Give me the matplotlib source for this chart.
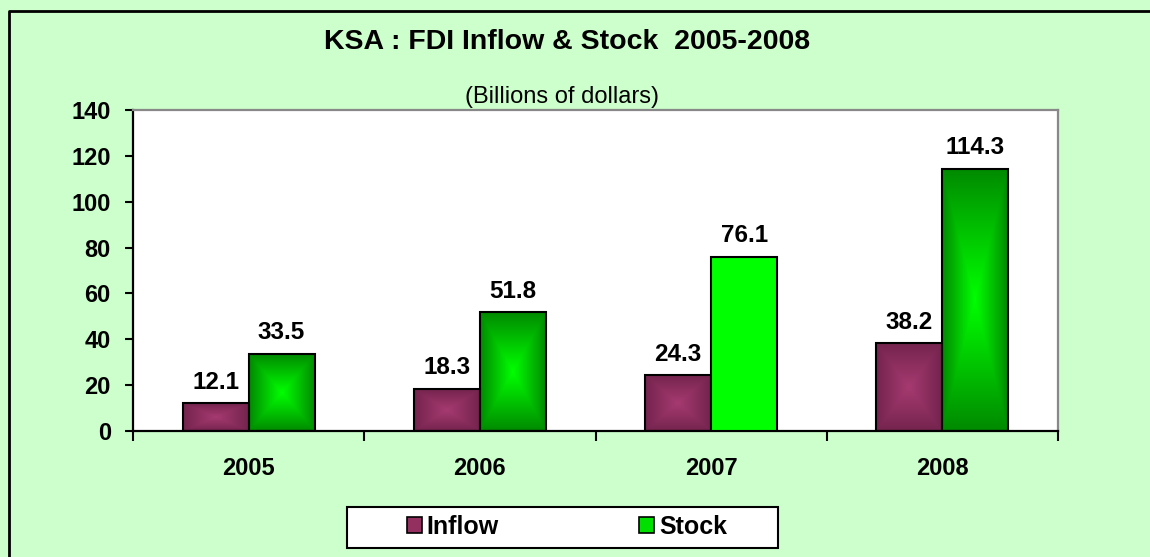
import numpy as np
import matplotlib.pyplot as plt
from matplotlib.patches import Rectangle, Patch
from matplotlib.lines import Line2D
from matplotlib.colors import LinearSegmentedColormap

plt.rcParams['font.family'] = ['Liberation Sans', 'DejaVu Sans']

years = ['2005', '2006', '2007', '2008']
inflow = [12.1, 18.3, 24.3, 38.2]
stock = [33.5, 51.8, 76.1, 114.3]

W, H = 1150, 557
fig = plt.figure(figsize=(W / 100, H / 100), dpi=100, facecolor='#CCFFCC')

# outer chart border: only the left and top edges show in the reference
fig.lines.append(Line2D([8.5 / W, 8.5 / W, 1.0], [0, 1 - 10.5 / H, 1 - 10.5 / H],
                        transform=fig.transFigure, color='black', lw=2))

ax = fig.add_axes([133 / W, 1 - 431 / H, 925 / W, 321 / H])
ax.set_facecolor('white')

x = np.arange(len(years))
w = 0.285


def shade(rect, c_mid, c_edge):
    # rectangular "from centre" gradient like Excel
    n = 200
    yy, xx = np.mgrid[-1:1:n * 1j, -1:1:n * 1j]
    t = np.maximum(np.abs(xx), np.abs(yy))
    cmap = LinearSegmentedColormap.from_list('g', [c_mid, c_edge])
    x0 = rect.get_x()
    ax.imshow(t, cmap=cmap, vmin=0, vmax=1, aspect='auto', interpolation='bilinear',
              extent=[x0, x0 + rect.get_width(), 0, rect.get_height()], zorder=2)


b1 = ax.bar(x - w / 2, inflow, w, facecolor='none', edgecolor='black', lw=1.5, zorder=3)
b2 = ax.bar(x + w / 2, stock, w, facecolor='none', edgecolor='black', lw=1.5, zorder=3)

for r in b1:
    shade(r, '#A63A70', '#74244E')
for yr, r in zip(years, b2):
    if yr == '2007':
        r.set_facecolor('#00FF00')
    else:
        shade(r, '#00FF00', '#008A00')

for bars, vals in ((b1, inflow), (b2, stock)):
    for r, v in zip(bars, vals):
        ax.annotate(f'{v:.1f}', (r.get_x() + r.get_width() / 2, v), xytext=(0, 7),
                    textcoords='offset points', ha='center', va='bottom',
                    fontsize=17.5, fontweight='bold')

ax.set_xlim(-0.5, 3.5)
ax.set_ylim(0, 140)
ax.set_yticks(range(0, 141, 20))
ax.set_xticks(x, years)
ax.set_xticks(np.arange(-0.5, 4, 1), minor=True)
ax.tick_params(axis='x', which='major', length=0, pad=19, labelsize=17, width=0)
ax.tick_params(axis='x', which='minor', length=7, width=1.5, direction='out')
ax.tick_params(axis='y', length=6, width=1.5, pad=10, labelsize=17)
for lab in ax.get_xticklabels() + ax.get_yticklabels():
    lab.set_fontweight('bold')

for s in ('left', 'bottom'):
    ax.spines[s].set_color('black')
    ax.spines[s].set_linewidth(1.6)
for s in ('top', 'right'):
    ax.spines[s].set_color('#888888')
    ax.spines[s].set_linewidth(1.6)

fig.text(0.4935, 1 - 42 / H, 'KSA : FDI Inflow & Stock  2005-2008', ha='center', va='center',
         fontsize=20.5, fontweight='bold')
fig.text(0.489, 1 - 97 / H, '(Billions of dollars)', ha='center', va='center', fontsize=17)

# legend box
fig.patches.append(Rectangle((347 / W, 1 - 548 / H), 431 / W, 41 / H, transform=fig.transFigure,
                             facecolor='white', edgecolor='black', lw=1.5, zorder=1))
handles = [Patch(facecolor='#93305F', edgecolor='black', lw=1.2, label='Inflow'),
           Patch(facecolor='#00E000', edgecolor='black', lw=1.2, label='Stock')]
fig.legend(handles=handles, loc='center', bbox_to_anchor=(567 / W, 1 - 527 / H), ncol=2,
           frameon=False, prop={'size': 18, 'weight': 'bold'}, handlelength=0.6,
           handleheight=0.6, handletextpad=0.2, columnspacing=5.6)

fig.savefig('out.png', dpi=100, facecolor=fig.get_facecolor())
